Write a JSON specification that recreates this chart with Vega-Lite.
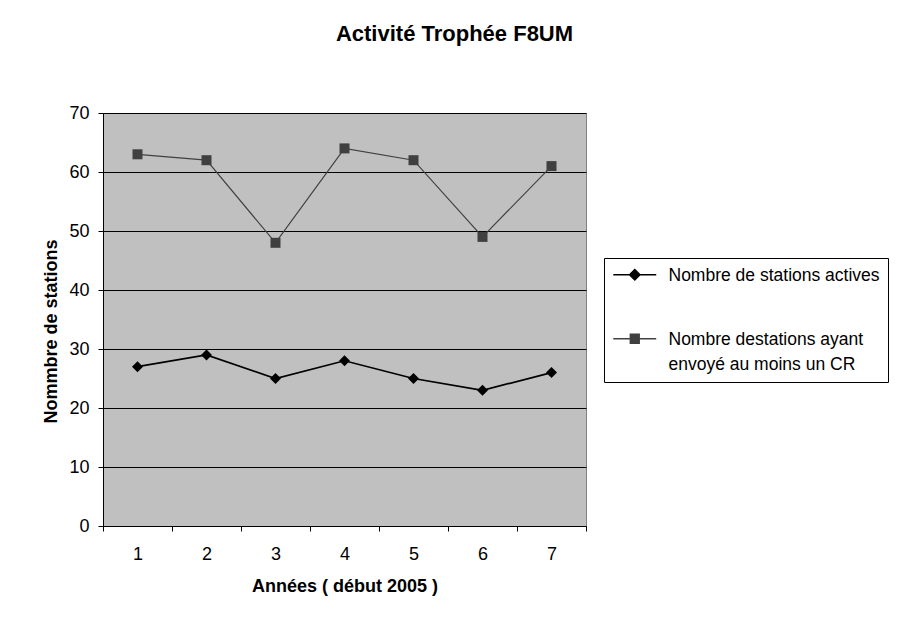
{
  "$schema": "https://vega.github.io/schema/vega-lite/v6.json",
  "width": 483,
  "height": 413,
  "autosize": {"type": "none"},
  "padding": {"left": 103, "top": 113, "right": 312, "bottom": 98},
  "background": "white",
  "config": {
    "view": {"fill": "#C0C0C0", "stroke": "#808080", "strokeWidth": 1},
    "font": "Liberation Sans"
  },
  "title": {
    "text": "Activité Trophée F8UM",
    "font": "Liberation Sans",
    "fontSize": 22,
    "fontWeight": "bold",
    "color": "black",
    "anchor": "middle",
    "offset": 58,
    "dx": 110
  },
  "data": {
    "values": [
      {"annee": 1, "serie": "Nombre de stations actives", "stations": 27},
      {"annee": 2, "serie": "Nombre de stations actives", "stations": 29},
      {"annee": 3, "serie": "Nombre de stations actives", "stations": 25},
      {"annee": 4, "serie": "Nombre de stations actives", "stations": 28},
      {"annee": 5, "serie": "Nombre de stations actives", "stations": 25},
      {"annee": 6, "serie": "Nombre de stations actives", "stations": 23},
      {"annee": 7, "serie": "Nombre de stations actives", "stations": 26},
      {"annee": 1, "serie": "Nombre destations ayant envoyé au moins un CR", "stations": 63},
      {"annee": 2, "serie": "Nombre destations ayant envoyé au moins un CR", "stations": 62},
      {"annee": 3, "serie": "Nombre destations ayant envoyé au moins un CR", "stations": 48},
      {"annee": 4, "serie": "Nombre destations ayant envoyé au moins un CR", "stations": 64},
      {"annee": 5, "serie": "Nombre destations ayant envoyé au moins un CR", "stations": 62},
      {"annee": 6, "serie": "Nombre destations ayant envoyé au moins un CR", "stations": 49},
      {"annee": 7, "serie": "Nombre destations ayant envoyé au moins un CR", "stations": 61}
    ]
  },
  "encoding": {
    "x": {
      "field": "annee",
      "type": "quantitative",
      "scale": {"domain": [0.5, 7.5], "nice": false, "zero": false},
      "axis": {
        "title": "Années ( début 2005 )",
        "titleFont": "Liberation Sans",
        "titleFontSize": 18,
        "titleFontWeight": "bold",
        "titleColor": "black",
        "titlePadding": 14,
        "values": [0.5, 1, 1.5, 2, 2.5, 3, 3.5, 4, 4.5, 5, 5.5, 6, 6.5, 7, 7.5],
        "labelExpr": "datum.value % 1 === 0 ? '' + datum.value : ''",
        "labelFont": "Liberation Sans",
        "labelFontSize": 18,
        "labelColor": "black",
        "labelPadding": 14,
        "tickSize": 5,
        "tickColor": "black",
        "tickOpacity": {"condition": {"test": "datum.value % 1 !== 0", "value": 1}, "value": 0},
        "domainColor": "black",
        "domainWidth": 1,
        "grid": false,
        "labelFlush": false,
        "labelOverlap": false
      }
    },
    "y": {
      "field": "stations",
      "type": "quantitative",
      "scale": {"domain": [0, 70], "nice": false},
      "axis": {
        "title": "Nommbre de stations",
        "titleFont": "Liberation Sans",
        "titleFontSize": 18,
        "titleFontWeight": "bold",
        "titleColor": "black",
        "titlePadding": 8,
        "titleY": 218,
        "values": [0, 10, 20, 30, 40, 50, 60, 70],
        "labelFont": "Liberation Sans",
        "labelFontSize": 18,
        "labelColor": "black",
        "labelPadding": 9,
        "tickSize": 5,
        "tickColor": "black",
        "domainColor": "black",
        "grid": true,
        "gridColor": "#000000",
        "gridWidth": 1,
        "labelFlush": false
      }
    },
    "color": {
      "field": "serie",
      "type": "nominal",
      "scale": {
        "domain": ["Nombre de stations actives", "Nombre destations ayant envoyé au moins un CR"],
        "range": ["#000000", "#404040"]
      }
    }
  },
  "layer": [
    {
      "mark": {"type": "line"},
      "encoding": {
        "strokeWidth": {
          "condition": {"test": "datum.serie === 'Nombre de stations actives'", "value": 1.7},
          "value": 1.2
        },
        "color": {
          "field": "serie",
          "type": "nominal",
          "scale": {
            "domain": ["Nombre de stations actives", "Nombre destations ayant envoyé au moins un CR"],
            "range": ["#000000", "#404040"]
          },
          "legend": {
            "title": null,
            "orient": "none",
            "legendX": 501,
            "legendY": 145,
            "strokeColor": "black",
            "fillColor": "white",
            "padding": 8,
            "labelFont": "Liberation Sans",
            "labelFontSize": 17.5,
            "labelColor": "black",
            "labelLimit": 0,
            "labelOffset": 39,
            "symbolSize": 121,
            "symbolStrokeWidth": 1.5,
            "rowPadding": 45,
            "labelBaseline": "alphabetic",
            "labelExpr": "datum.label === 'Nombre destations ayant envoyé au moins un CR' ? ['Nombre destations ayant', 'envoyé au moins un CR'] : datum.label",
            "encode": {
              "symbols": {
                "update": {
                  "shape": {"signal": "datum.value === 'Nombre de stations actives' ? 'M-1.36,0H6.45M2.55,-0.95L3.5,0L2.55,0.95L1.6,0Z' : 'M-1.36,0H6.45M1.75,-0.8H3.35V0.8H1.75Z'"},
                  "fill": {"signal": "datum.value === 'Nombre de stations actives' ? '#000000' : '#404040'"},
                  "stroke": {"signal": "datum.value === 'Nombre de stations actives' ? '#000000' : '#404040'"},
                  "strokeWidth": {"value": 1.5}
                }
              },
              "labels": {
                "update": {
                  "dy": {"value": 6},
                  "lineHeight": {"value": 25}
                }
              }
            }
          }
        }
      }
    },
    {
      "mark": {"type": "point", "filled": true, "opacity": 1},
      "encoding": {
        "shape": {
          "condition": {"test": "datum.serie === 'Nombre de stations actives'", "value": "diamond"},
          "value": "square"
        },
        "size": {
          "condition": {"test": "datum.serie === 'Nombre de stations actives'", "value": 121},
          "value": 100
        },
        "color": {
          "field": "serie",
          "type": "nominal",
          "scale": {
            "domain": ["Nombre de stations actives", "Nombre destations ayant envoyé au moins un CR"],
            "range": ["#000000", "#404040"]
          },
          "legend": null
        }
      }
    }
  ]
}
